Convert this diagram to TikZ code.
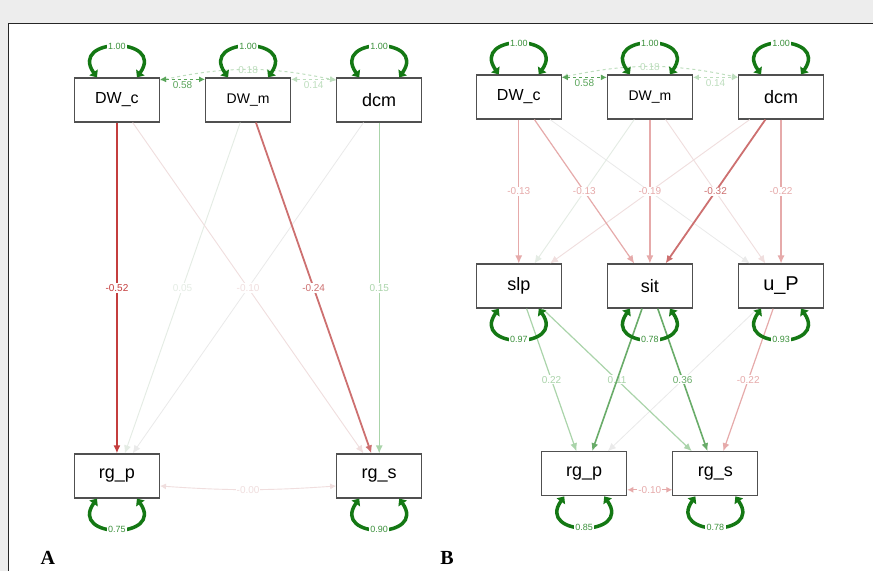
\documentclass[tikz,border=0pt]{standalone}
\usepackage{fontspec}
\setmainfont{Liberation Sans}
\newfontfamily\panelfont{Liberation Serif}
\usetikzlibrary{arrows.meta,positioning}
\definecolor{pagegray}{RGB}{237,237,237}
\definecolor{boxgray}{RGB}{80,80,80}
\definecolor{cRedS}{RGB}{196,62,62}
\definecolor{cRedM}{RGB}{205,112,112}
\definecolor{cRedL}{RGB}{230,170,170}
\definecolor{cRedF}{RGB}{240,222,222}
\definecolor{cGreenM}{RGB}{105,172,105}
\definecolor{cGreenL}{RGB}{170,212,170}
\definecolor{cGreenF}{RGB}{228,236,228}
\definecolor{cGrayF}{RGB}{234,234,234}
\definecolor{cLoop}{RGB}{20,120,20}
\definecolor{cLoopTxt}{RGB}{60,145,60}
\definecolor{cCov}{RGB}{90,165,90}
\definecolor{cCovP}{RGB}{190,222,190}

\begin{document}
\begin{tikzpicture}[x=1pt,y=1pt,
        box/.style={rectangle,draw=boxgray,line width=1.2pt,fill=white,minimum width=85pt,minimum height=44pt,inner sep=2pt,font=\fontsize{18}{20}\selectfont},
        reg/.style={-{Latex[length=8pt,width=7pt]}},
        lbl/.style={fill=white,inner sep=1pt,font=\fontsize{10}{12}\selectfont},
        negS/.style={draw=cRedS,text=cRedS,line width=2.8pt},
        negM/.style={draw=cRedM,text=cRedM,line width=1.8pt},
        negL/.style={draw=cRedL,text=cRedL,line width=1.2pt},
        negF/.style={draw=cRedF,text=cRedF,line width=0.9pt},
        posM/.style={draw=cGreenM,text=cGreenM,line width=1.6pt},
        posL/.style={draw=cGreenL,text=cGreenL,line width=1.2pt},
        posF/.style={draw=cGreenF,text=cGreenF,line width=0.9pt},
        zero/.style={draw=cGrayF,text=cGrayF,line width=0.8pt},
        cov/.style={dashed,line width=1pt,{Latex[length=6pt,width=6pt]}-{Latex[length=6pt,width=6pt]}},
        vloop/.style={draw=cLoop,line width=3.5pt,{Triangle[length=6pt,width=10pt]}-{Triangle[length=6pt,width=10pt]}},
        looplbl/.style={fill=white,inner sep=1.5pt,text=cLoopTxt,font=\fontsize{9}{11}\selectfont},
        panel/.style={anchor=base west,font=\panelfont\bfseries\fontsize{20}{22}\selectfont}
    ]
        \fill[pagegray] (0,0) rectangle (873,-571);
        \fill[white] (8,-23) rectangle (873,-571);
        \draw[line width=0.8pt,black!85] (8,-571) -- (8,-23) -- (873,-23);
        \useasboundingbox (0,0) rectangle (873,-571);

        % A
        \node[box,font=\fontsize{16}{18}\selectfont] (DWcA) at (117,-100) {DW\_c};
        \node[box,font=\fontsize{14}{16}\selectfont,right=45pt of DWcA] (DWmA) {DW\_m};
        \node[box,right=45pt of DWmA] (dcmA) {dcm};
        \node[box,below=331pt of DWcA] (rgpA) {rg\_p};
        \node[box,below=331pt of dcmA] (rgsA) {rg\_s};

        \draw[reg,zero] (dcmA) -- (rgpA);
        \draw[reg,posF] (DWmA) -- node[lbl] {0.05} (rgpA);
        \draw[reg,negF] (DWcA) -- node[lbl] {-0.10} (rgsA);
        \draw[reg,posL] (dcmA) -- node[lbl] {0.15} (rgsA);
        \draw[reg,negM] (DWmA) -- node[lbl] {-0.24} (rgsA);
        \draw[reg,negS] (DWcA) -- node[lbl] {-0.52} (rgpA);

        \draw[cov,cCovP] ([yshift=-3pt]DWcA.north east) to[bend left=12] node[inner sep=1pt,text=cCovP,font=\fontsize{10}{12}\selectfont] {0.18} ([yshift=-3pt]dcmA.north west);
        \draw[cov,cCov] ([yshift=-2pt]DWcA.north east) -- node[below=1pt,inner sep=1pt,text=cCov,font=\fontsize{10}{12}\selectfont] {0.58} ([yshift=-2pt]DWmA.north west);
        \draw[cov,cCovP] ([yshift=-2pt]DWmA.north east) -- node[below=1pt,inner sep=1pt,text=cCovP,font=\fontsize{10}{12}\selectfont] {0.14} ([yshift=-2pt]dcmA.north west);
        \draw[negF,{Latex[length=6pt,width=6pt]}-{Latex[length=6pt,width=6pt]}] ([yshift=-10pt]rgpA.east) to[bend right=4] node[lbl] {-0.00} ([yshift=-10pt]rgsA.west);

        \draw[vloop] ([xshift=-20pt]DWcA.north) to[out=125,in=55,looseness=3.2] node[looplbl] {1.00} ([xshift=20pt]DWcA.north);
        \draw[vloop] ([xshift=-20pt]DWmA.north) to[out=125,in=55,looseness=3.2] node[looplbl] {1.00} ([xshift=20pt]DWmA.north);
        \draw[vloop] ([xshift=-20pt]dcmA.north) to[out=125,in=55,looseness=3.2] node[looplbl] {1.00} ([xshift=20pt]dcmA.north);
        \draw[vloop] ([xshift=-20pt]rgpA.south) to[out=-125,in=-55,looseness=3.2] node[looplbl] {0.75} ([xshift=20pt]rgpA.south);
        \draw[vloop] ([xshift=-20pt]rgsA.south) to[out=-125,in=-55,looseness=3.2] node[looplbl] {0.90} ([xshift=20pt]rgsA.south);

        % B
        \node[box,font=\fontsize{16}{18}\selectfont] (DWcB) at (519,-97) {DW\_c};
        \node[box,font=\fontsize{14}{16}\selectfont,right=45pt of DWcB] (DWmB) {DW\_m};
        \node[box,right=45pt of DWmB] (dcmB) {dcm};
        \node[box,below=144pt of DWcB] (slpB) {slp};
        \node[box,below=144pt of DWmB] (sitB) {sit};
        \node[box,font=\fontsize{20}{22}\selectfont,below=144pt of dcmB] (uPB) {u\_P};
        \node[box] (rgpB) at (584.5,-474) {rg\_p};
        \node[box,right=45pt of rgpB] (rgsB) {rg\_s};

        \draw[reg,zero] (DWcB) -- (uPB);
        \draw[reg,posF] (DWmB) -- (slpB);
        \draw[reg,negF] (dcmB) -- (slpB);
        \draw[reg,negF] (DWmB) -- (uPB);
        \draw[reg,negL] (DWcB) -- node[lbl] {-0.13} (slpB);
        \draw[reg,negL] (DWcB) -- node[lbl] {-0.13} (sitB);
        \draw[reg,negL] (DWmB) -- node[lbl] {-0.19} (sitB);
        \draw[reg,negL] (dcmB) -- node[lbl] {-0.22} (uPB);
        \draw[reg,negM] (dcmB) -- node[lbl] {-0.32} (sitB);

        \draw[reg,zero] (uPB) -- (rgpB);
        \draw[reg,posL] (slpB) -- node[lbl] {0.22} (rgpB);
        \draw[reg,posL] (slpB) -- node[lbl] {0.11} (rgsB);
        \draw[reg,posM] (sitB) -- (rgpB);
        \draw[reg,posM] (sitB) -- node[lbl] {0.36} (rgsB);
        \draw[reg,negL] (uPB) -- node[lbl] {-0.22} (rgsB);

        \draw[cov,cCovP] ([yshift=-3pt]DWcB.north east) to[bend left=12] node[inner sep=1pt,text=cCovP,font=\fontsize{10}{12}\selectfont] {0.18} ([yshift=-3pt]dcmB.north west);
        \draw[cov,cCov] ([yshift=-3pt]DWcB.north east) -- node[below=1pt,inner sep=1pt,text=cCov,font=\fontsize{10}{12}\selectfont] {0.58} ([yshift=-3pt]DWmB.north west);
        \draw[cov,cCovP] ([yshift=-3pt]DWmB.north east) -- node[below=1pt,inner sep=1pt,text=cCovP,font=\fontsize{10}{12}\selectfont] {0.14} ([yshift=-3pt]dcmB.north west);
        \draw[negL,line width=1pt,{Latex[length=6pt,width=6pt]}-{Latex[length=6pt,width=6pt]}] ([yshift=-16pt]rgpB.east) -- node[lbl] {-0.10} ([yshift=-16pt]rgsB.west);

        \draw[vloop] ([xshift=-20pt]DWcB.north) to[out=125,in=55,looseness=3.2] node[looplbl] {1.00} ([xshift=20pt]DWcB.north);
        \draw[vloop] ([xshift=-20pt]DWmB.north) to[out=125,in=55,looseness=3.2] node[looplbl] {1.00} ([xshift=20pt]DWmB.north);
        \draw[vloop] ([xshift=-20pt]dcmB.north) to[out=125,in=55,looseness=3.2] node[looplbl] {1.00} ([xshift=20pt]dcmB.north);
        \draw[vloop] ([xshift=-20pt]slpB.south) to[out=-125,in=-55,looseness=3.2] node[looplbl] {0.97} ([xshift=20pt]slpB.south);
        \draw[vloop] ([xshift=-20pt]sitB.south) to[out=-125,in=-55,looseness=3.2] node[looplbl] {0.78} ([xshift=20pt]sitB.south);
        \draw[vloop] ([xshift=-20pt]uPB.south) to[out=-125,in=-55,looseness=3.2] node[looplbl] {0.93} ([xshift=20pt]uPB.south);
        \draw[vloop] ([xshift=-20pt]rgpB.south) to[out=-125,in=-55,looseness=3.2] node[looplbl] {0.85} ([xshift=20pt]rgpB.south);
        \draw[vloop] ([xshift=-20pt]rgsB.south) to[out=-125,in=-55,looseness=3.2] node[looplbl] {0.78} ([xshift=20pt]rgsB.south);

        \node[panel] (labA) at (37,-565) {A};
        \node[panel] (labB) at (437,-565) {B};
    \end{tikzpicture}
\end{document}
